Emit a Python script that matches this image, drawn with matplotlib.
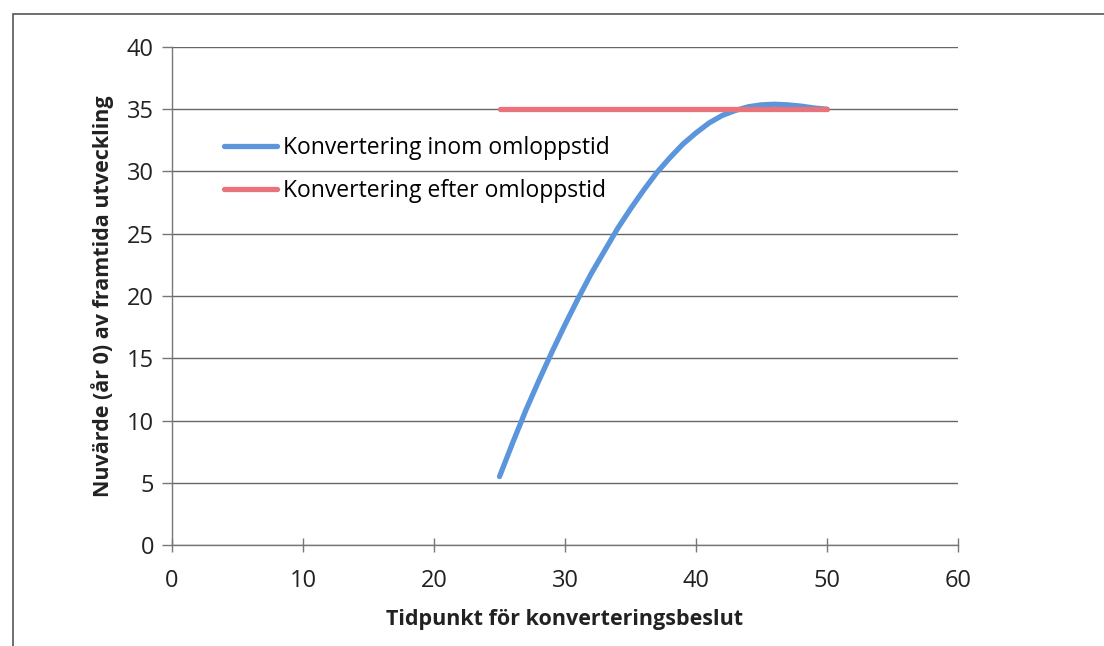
import matplotlib
matplotlib.use('Agg')
import matplotlib.pyplot as plt
import matplotlib.patches as patches

plt.rcParams['font.family'] = ['Open Sans', 'DejaVu Sans']

# data
years = [25, 26, 27, 28, 29, 30, 31, 32, 33, 34, 35, 36, 37,
         38, 39, 40, 41, 42, 43, 44, 45, 46, 47, 48, 49, 50]
inom = [5.5, 8.2, 10.8, 13.2, 15.5, 17.7, 19.8, 21.8, 23.6, 25.4, 27.0, 28.5, 29.9,
        31.1, 32.2, 33.1, 33.9, 34.5, 34.9, 35.2, 35.35, 35.4, 35.35, 35.25, 35.1, 35.0]
efter_x = [25, 50]
efter = [35.0, 35.0]

x_ticks = [0, 10, 20, 30, 40, 50, 60]
y_ticks = [0, 5, 10, 15, 20, 25, 30, 35, 40]

fig = plt.figure(figsize=(11.04, 6.46), dpi=100)
ax = fig.add_axes([0.1558, 0.1563, 0.712, 0.771])

# frame of the scanned chart (only left and top edges visible)
fig.patches.append(patches.Rectangle((0.0115, -0.1), 1.2, 1.078, transform=fig.transFigure,
                                     fill=False, edgecolor='#555555', linewidth=1.2))

ax.plot(years, inom, color='#5b95dc', linewidth=3.8, solid_capstyle='round',
        label='Konvertering inom omloppstid', zorder=3)
ax.plot(efter_x, efter, color='#e8737a', linewidth=3.8, solid_capstyle='round',
        label='Konvertering efter omloppstid', zorder=4)

ax.set_xlim(0, 60)
ax.set_ylim(0, 40)
ax.set_xticks(x_ticks)
ax.set_yticks(y_ticks)
ax.yaxis.grid(True, color='#666666', linewidth=1.0)
ax.set_axisbelow(True)
for s in ['top', 'right']:
    ax.spines[s].set_visible(False)
for s in ['left', 'bottom']:
    ax.spines[s].set_color('#777777')
    ax.spines[s].set_linewidth(1.0)
ax.tick_params(axis='both', labelsize=17, colors='#777777', labelcolor='#222222',
               length=7, width=1.0)
ax.tick_params(axis='x', direction='inout', length=10, pad=12)
ax.tick_params(axis='y', pad=6)

ax.set_xlabel('Tidpunkt för konverteringsbeslut', fontsize=15.5, fontweight='bold',
              color='#222222', labelpad=12)
ax.set_ylabel('Nuvärde (år 0) av framtida utveckling', fontsize=15.5, fontweight='bold',
              color='#222222', labelpad=9)

ax.legend(loc='center left', bbox_to_anchor=(0.04, 0.754), frameon=False,
          fontsize=16.5, handlelength=2.3, handletextpad=0.25, labelspacing=0.85)

fig.savefig('out.png', dpi=100)
